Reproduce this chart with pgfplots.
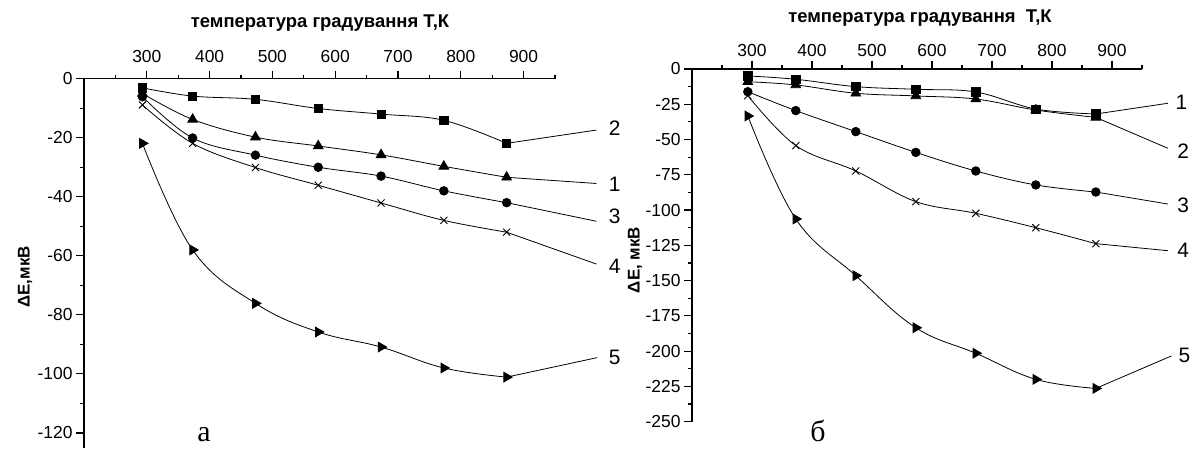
\documentclass[border=0pt]{standalone}
\usepackage{fontspec}
\setmainfont{Liberation Sans}
\newfontfamily\seriffont{Liberation Serif}
\usepackage{pgfplots}
\pgfplotsset{compat=1.18}
\pgfplotsset{
  common/.style={
    scale only axis,
    axis x line*=top, axis y line*=left,
    xmin=200, xmax=950, ymax=0,
    xtick={300,400,...,900},
    minor xtick={250,350,...,950},
    tick align=outside,
    major tick length=8bp, minor tick length=4bp,
    axis line style={line width=1.6bp},
    every tick/.style={line width=1.2bp, black},
    tick label style={font=\fontsize{17.5}{17.5}\selectfont},
    /pgf/number format/assume math mode=true,
    clip=false,
    every axis plot/.append style={line width=0.8bp, black},
  },
  sq/.style={mark=square*, mark size=4.1bp, mark options={solid, fill=black}, smooth, tension=0.6},
  tr/.style={mark=triangle*, mark size=5.6bp, mark options={solid, fill=black}, smooth, tension=0.6},
  ci/.style={mark=*, mark size=4.3bp, mark options={solid, fill=black}, smooth, tension=0.6},
  xx/.style={mark=x, mark size=5bp, mark options={solid, line width=0.9bp}, smooth, tension=0.6},
  rt/.style={mark=triangle*, mark size=5.6bp, mark options={solid, fill=black, rotate=-90}, smooth, tension=0.65},
  lead/.style={no marks, line width=0.8bp},
}
\tikzset{lab/.style={font=\fontsize{21}{21}\selectfont, anchor=west}}
\begin{document}
\begin{tikzpicture}[x=1bp,y=1bp]
\path[use as bounding box] (0,0) rectangle (1191,449);

% ---------- left chart (а) ----------
\begin{axis}[common, at={(84bp,1.3bp)}, anchor=south west,
  width=471bp, height=369bp, ymin=-125,
  xticklabel style={yshift=4bp},
  ytick={-120,-100,...,0}, minor ytick={-110,-90,...,-10}]
\addplot[sq] coordinates {(293,-3.1) (373,-5.9) (473,-7.0) (573,-10.1) (673,-12.0) (773,-14.1) (873,-21.9)};
\addplot[lead] coordinates {(873,-21.9) (1016,-17.4)};
\addplot[tr] coordinates {(293,-5.0) (373,-13.8) (473,-19.8) (573,-22.8) (673,-25.8) (773,-29.7) (873,-33.4)};
\addplot[lead] coordinates {(873,-33.4) (1016,-35.5)};
\addplot[ci] coordinates {(293,-6.1) (373,-20.1) (473,-25.9) (573,-30.0) (673,-33.0) (773,-38.0) (873,-42.0)};
\addplot[lead] coordinates {(873,-42.0) (1016,-48.3)};
\addplot[xx] coordinates {(293,-8.9) (373,-21.9) (473,-30.1) (573,-36.1) (673,-42.1) (773,-48.0) (873,-52.0)};
\addplot[lead] coordinates {(873,-52.0) (1016,-62.8)};
\addplot[rt] coordinates {(293,-21.9) (373,-58.0) (473,-76.1) (573,-85.8) (673,-90.9) (773,-98.0) (873,-101.1)};
\addplot[lead] coordinates {(873,-101.1) (1017,-94.5)};
\node[lab] at (axis cs:1030,-16.7) {2};
\node[lab] at (axis cs:1030,-35.7) {1};
\node[lab] at (axis cs:1030,-46.5) {3};
\node[lab] at (axis cs:1030,-63.5) {4};
\node[lab] at (axis cs:1030,-94.3) {5};
\end{axis}

% ---------- right chart (б) ----------
\begin{axis}[common, at={(692bp,27.3bp)}, anchor=south west,
  width=450bp, height=352.7bp, ymin=-250,
  xticklabel style={yshift=1bp},
  ytick={-250,-225,...,0}, minor ytick={-237.5,-212.5,...,-12.5}]
\addplot[sq] coordinates {(293,-4.9) (373,-7.3) (473,-12.5) (573,-14.4) (673,-16.3) (773,-28.4) (873,-31.9)};
\addplot[lead] coordinates {(873,-31.9) (993,-24.3)};
\addplot[tr] coordinates {(293,-9.0) (373,-11.3) (473,-17.2) (573,-19.1) (673,-21.3) (773,-29.1) (873,-34.3)};
\addplot[lead] coordinates {(873,-34.3) (993,-56.2)};
\addplot[ci] coordinates {(293,-16.1) (373,-29.5) (473,-44.4) (573,-59.1) (673,-72.3) (773,-82.2) (873,-87.2)};
\addplot[lead] coordinates {(873,-87.2) (993,-95.7)};
\addplot[xx] coordinates {(293,-18.9) (373,-54.3) (473,-72.3) (573,-94.0) (673,-102.3) (773,-112.5) (873,-123.8)};
\addplot[lead] coordinates {(873,-123.8) (993,-128.8)};
\addplot[rt] coordinates {(293,-33.3) (373,-106.3) (473,-146.5) (573,-183.4) (673,-201.5) (773,-220.0) (873,-226.4)};
\addplot[lead] coordinates {(873,-226.4) (999,-203.4)};
\node[lab] at (axis cs:1000,-23.3) {1};
\node[lab] at (axis cs:1003,-58.3) {2};
\node[lab] at (axis cs:1003,-96.6) {3};
\node[lab] at (axis cs:1003,-128.7) {4};
\node[lab] at (axis cs:1005,-202.7) {5};
\end{axis}

% ---------- titles and labels ----------
\node[font=\bfseries\fontsize{18.5}{18.5}\selectfont] at (320,426.3) {температура градування Т,К};
\node[font=\bfseries\fontsize{18.5}{18.5}\selectfont] at (920,430.7) {температура градування\ \ Т,К};
\node[rotate=90, font=\bfseries\fontsize{17}{17}\selectfont] at (25,172) {ΔE,мкВ};
\node[rotate=90, font=\bfseries\fontsize{17}{17}\selectfont] at (635,189) {ΔE, мкВ};
\node[font=\seriffont\fontsize{30}{30}\selectfont] at (204,14) {а};
\node[font=\seriffont\fontsize{30}{30}\selectfont] at (818,18) {б};
\end{tikzpicture}
\end{document}
